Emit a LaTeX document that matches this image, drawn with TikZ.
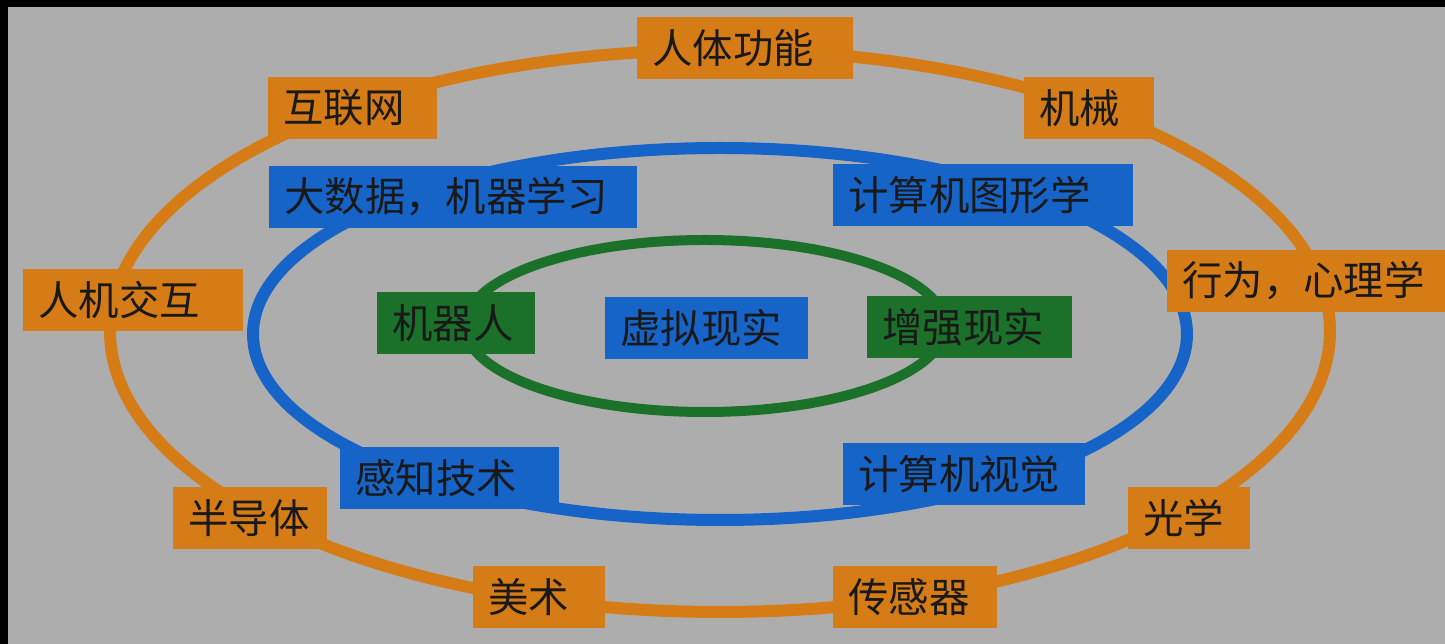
\documentclass[tikz,border=0pt]{standalone}
\usepackage{fontspec}
\newfontfamily\cjk{Noto Sans CJK SC}
\definecolor{bg}{HTML}{ADADAD}
\definecolor{org}{HTML}{D67C16}
\definecolor{blu}{HTML}{1664C8}
\definecolor{grn}{HTML}{1B702A}
\tikzset{
  bx/.style={anchor=west, minimum height=1.24cm, inner ysep=0pt, inner xsep=0.3cm,
    align=left, font=\cjk\fontsize{23}{24}\selectfont, text=black!90},
  obox/.style={bx, fill=org},
  bbox/.style={bx, fill=blu},
  gbox/.style={bx, fill=grn},
  ring/.style={line width=0.24cm},
}
\begin{document}
\begin{tikzpicture}[x=0.02cm,y=-0.02cm]
\useasboundingbox (0,0) rectangle (1445,644);
\fill[black] (0,0) rectangle (1445,644);
\fill[bg] (8,7) rectangle (1445,644);
% rings
\draw[ring, org] (720,331) ellipse [x radius=610, y radius=281];
\draw[ring, blu] (720,334) ellipse [x radius=467, y radius=186];
\draw[ring, grn, line width=0.2cm] (705,326) ellipse [x radius=240, y radius=86];
% outer boxes
\node[obox, text width=3.72cm] (rtgn) at (637,48) {人体功能};
\node[obox, text width=2.78cm] (hlw) at (268,108) {互联网};
\node[obox, text width=2.0cm] (jx) at (1024,108) {机械};
\node[obox, text width=3.8cm] (rjjh) at (23,300) {人机交互};
\node[obox, text width=4.96cm] (xw) at (1167,281) {行为，心理学};
\node[obox, text width=2.48cm] (bdt) at (173,518) {半导体};
\node[obox, text width=1.84cm] (gx) at (1128,518) {光学};
\node[obox, text width=2.04cm] (ms) at (473,597) {美术};
\node[obox, text width=2.68cm] (cgq) at (833,597) {传感器};
% middle boxes
\node[bbox, text width=6.76cm] (dsj) at (269,197) {大数据，机器学习};
\node[bbox, text width=5.4cm] (jsjtx) at (833,195) {计算机图形学};
\node[bbox, text width=3.78cm] (gzjs) at (340,478) {感知技术};
\node[bbox, text width=4.24cm] (jsjsj) at (843,474) {计算机视觉};
% inner boxes
\node[gbox, text width=2.56cm] (jqr) at (377,323) {机器人};
\node[bbox, text width=3.46cm] (xnxs) at (605,328) {虚拟现实};
\node[gbox, text width=3.5cm] (zqxs) at (867,327) {增强现实};
\end{tikzpicture}
\end{document}
